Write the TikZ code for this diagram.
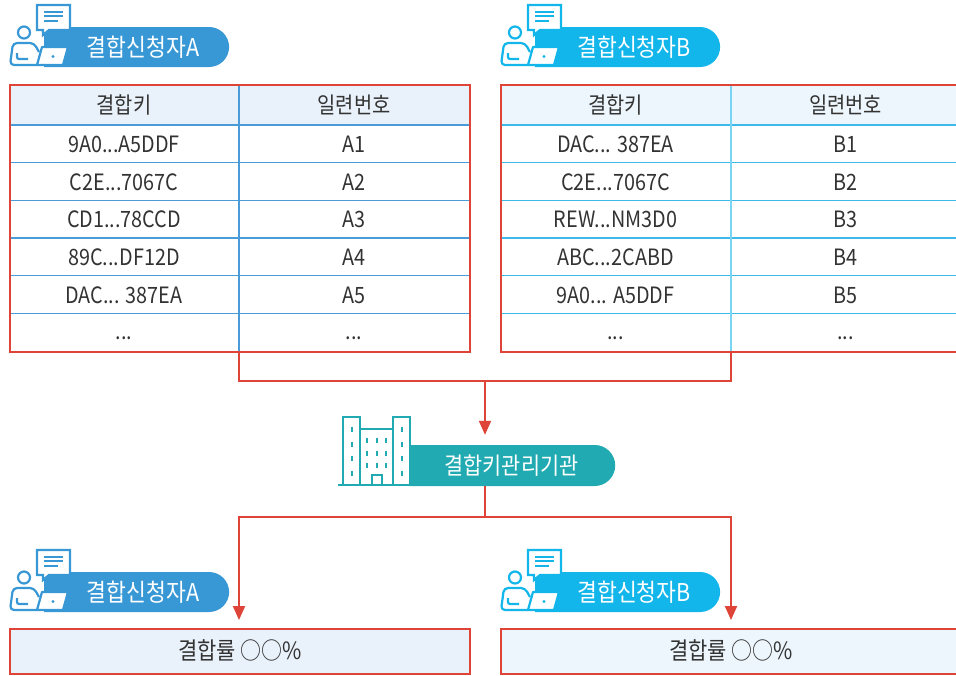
\documentclass[tikz,border=0pt]{standalone}
\usepackage{fontspec}
\setmainfont[FakeStretch=0.88]{Noto Sans CJK KR}
\usetikzlibrary{arrows.meta,shapes.misc}
\definecolor{clrA}{HTML}{3898D5}
\definecolor{clrB}{HTML}{12B6EA}
\definecolor{clrT}{HTML}{21AAB1}
\definecolor{clrR}{HTML}{DE4437}
\definecolor{hdA}{HTML}{E9F1FA}
\definecolor{hdB}{HTML}{EDF6FC}
\definecolor{grA}{HTML}{4A9BD8}
\definecolor{grB}{HTML}{3DB9EA}
\definecolor{grBv}{HTML}{7AD4F4}
\definecolor{txt}{HTML}{333333}
\tikzset{
  redline/.style={draw=clrR, line width=2pt},
  arr/.style={redline, -{Triangle[width=12pt,length=14pt]}},
  cell/.style={anchor=base, text=txt, font=\fontsize{22.5}{22.5}\selectfont, inner sep=0pt},
  pilltext/.style={anchor=base, text=white, font=\fontsize{24.5}{24.5}\selectfont, inner sep=0pt},
  pill/.style={rounded rectangle, rounded rectangle left arc=none, inner sep=0pt, draw=none},
  frame/.style={draw=clrR, line width=2pt, inner sep=0pt, anchor=north west},
  restext/.style={anchor=base, text=txt, font=\fontsize{23.8}{23.8}\selectfont, inner sep=0pt},
}
\newcommand\applicant[6]{%
\begin{scope}[shift={(#1,#2)}, line width=2.2pt, draw=#3]
  \node[pill, fill=#3, minimum width=185pt, minimum height=40pt, anchor=west] (#5) at (43,47) {};
  \draw[fill=white, line join=round] (42,47) -- (68,47) -- (63,65) -- (37,65) -- cycle;
  \fill[#3] (53,56.5) circle (1.7pt);
  \draw[line join=round, rounded corners=4pt] (37,65) -- (10,65) -- (13,43) -- (34,43) -- (39,52);
  \draw[rounded corners=2pt] (17,53) -- (17,59) -- (28,59);
  \draw (24,32.5) circle (6pt);
  \draw[fill=white, line join=miter] (37,5) -- (70,5) -- (70,30) -- (49,30) -- (43,35) -- (43,30) -- (37,30) -- cycle;
  \draw (44,11.7) -- (63,11.7) (44,16.3) -- (63,16.3) (44,21) -- (58,21);
  \node[pilltext] (#6) at (143,56.3) {#4};
\end{scope}}
\newcommand\myrow[6]{%
  \node[cell] (a#1k) at (124,#2) {#3};
  \node[cell] (a#1s) at (354,#2) {#4};
  \node[cell] (b#1k) at (615.5,#2) {#5};
  \node[cell] (b#1s) at (845.5,#2) {#6};}
\begin{document}
\begin{tikzpicture}[x=1pt,y=-1pt]
\useasboundingbox (0,0) rectangle (956,675);
\fill[white] (0,0) rectangle (956,675);

% ---------- tables ----------
\fill[hdA] (9,84) rectangle (469,125);
\fill[hdB] (500,84) rectangle (960,125);
\foreach \yy in {125,162.7,200.3,238,275.7,313.3} {
  \draw[grA, line width=1.4pt] (9,\yy) -- (469,\yy);
  \draw[grB, line width=1.4pt] (500,\yy) -- (960,\yy);
}
\coordinate (colA) at (239,84);
\coordinate (colB) at (731,84);
\draw[grA, line width=1.4pt] (colA) -- (239,351);
\draw[grBv, line width=1.6pt] (colB) -- (731,351);
\node[frame, minimum width=460pt, minimum height=267pt] (tA) at (9,84) {};
\node[frame, minimum width=460pt, minimum height=267pt] (tB) at (500,84) {};

\myrow{0}{113}{결합키}{일련번호}{결합키}{일련번호}
\myrow{1}{152.3}{9A0...A5DDF}{A1}{DAC... 387EA}{B1}
\myrow{2}{190}{C2E...7067C}{A2}{C2E...7067C}{B2}
\myrow{3}{227.7}{CD1...78CCD}{A3}{REW...NM3D0}{B3}
\myrow{4}{265.3}{89C...DF12D}{A4}{ABC...2CABD}{B4}
\myrow{5}{303}{DAC... 387EA}{A5}{9A0... A5DDF}{B5}
\myrow{6}{339.5}{...}{...}{...}{...}

% ---------- applicants (top) ----------
\applicant{0}{0}{clrA}{결합신청자A}{pA}{lA}
\applicant{491}{0}{clrB}{결합신청자B}{pB}{lB}

% ---------- institution ----------
\node[pill, fill=clrT, minimum width=205pt, minimum height=41pt, anchor=west] (inst) at (410,465.5) {};
\begin{scope}[draw=clrT, line width=2.2pt]
  \draw[line width=2.6pt] (338,485) -- (412,485);
  \draw[fill=white] (343,417) rectangle (360,485);
  \draw[fill=white] (360,429) rectangle (393,485);
  \draw[fill=white] (393,417) rectangle (410,485);
  \foreach \yy in {426.7,441.7,455.7,470.7} {
    \draw (351.7,\yy) -- (351.7,\yy+5);
    \draw (401.7,\yy) -- (401.7,\yy+5);
  }
  \foreach \yy in {437.7,450.7,463.3} {
    \draw (367.3,\yy) -- (367.3,\yy+5);
    \draw (376.7,\yy) -- (376.7,\yy+5);
    \draw (386,\yy) -- (386,\yy+5);
  }
  \draw[fill=white] (371.7,475) rectangle (381.7,485);
\end{scope}
\node[pilltext, font=\fontsize{23.6}{23.6}\selectfont] (lInst) at (511.5,474.5) {결합키관리기관};

% ---------- results ----------
\node[frame, fill=hdA, minimum width=460pt, minimum height=45pt] (rA) at (9,628) {};
\node[frame, fill=hdB, minimum width=460pt, minimum height=45pt] (rB) at (500,628) {};
\node[restext] (rtA) at (240,659.5) {결합률 ○○\%};
\node[restext] (rtB) at (731,659.5) {결합률 ○○\%};

\applicant{0}{545}{clrA}{결합신청자A}{pA2}{lA2}
\applicant{491}{545}{clrB}{결합신청자B}{pB2}{lB2}

% ---------- connectors ----------
\coordinate (j1) at (485,381);
\coordinate (j2) at (485,517);
\draw[redline] (tA.south -| colA) |- (j1) -| (tB.south -| colB);
\draw[arr, shorten >=10pt] (j1) -- (inst.north -| j1);
\draw[redline] (inst.south -| j1) -- (j2);
\draw[arr, shorten >=8pt] (j2) -| (rA.north -| colA);
\draw[arr, shorten >=8pt] (j2) -| (rB.north -| colB);
\end{tikzpicture}
\end{document}
